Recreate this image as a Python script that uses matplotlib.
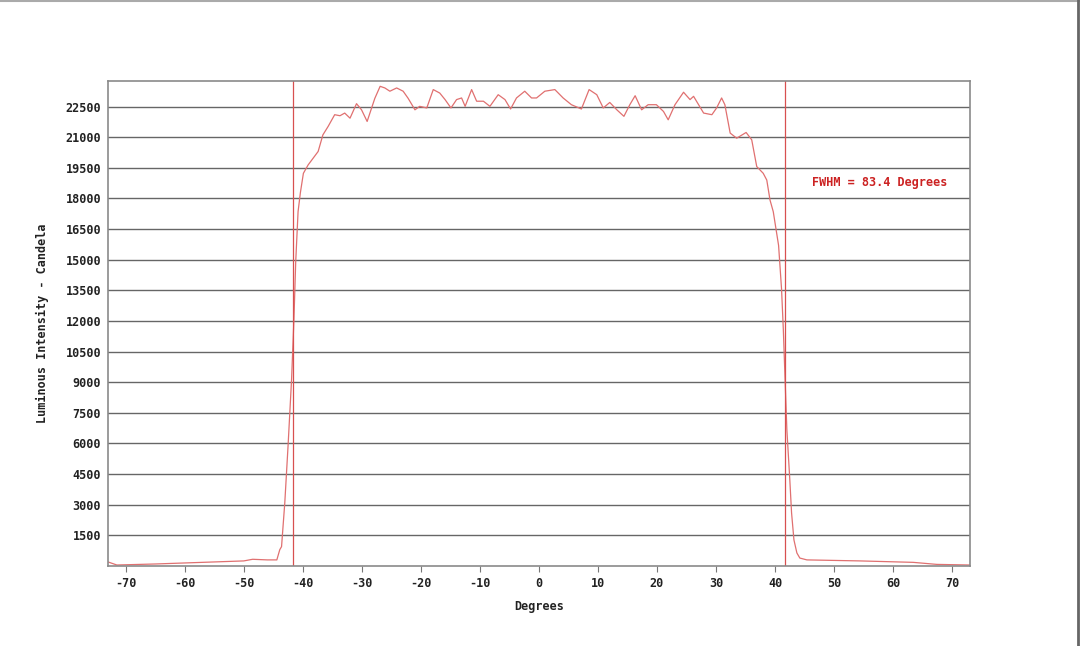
import matplotlib
matplotlib.use("Agg")
from matplotlib import pyplot as plt
from matplotlib.lines import Line2D
import numpy as np

degrees = [-73.0, -71.5, -65.0, -60.0, -55.0, -50.0, -48.5, -46.0, -44.4, -43.9,
           -43.6, -43.05, -42.5, -41.9, -41.5, -41.2, -40.8, -40.4, -39.9, -39.1,
           -38.25, -37.4, -36.6, -35.7, -34.6, -33.7, -32.9, -32.0, -30.9, -30.05,
           -29.1, -27.8, -26.9, -26.1, -25.25, -24.1, -23.0, -22.15, -21.0, -20.2,
           -19.0, -17.9, -16.8, -15.9, -14.9, -13.95, -13.1, -12.5, -11.4, -10.55,
           -9.4, -8.3, -6.9, -5.75, -4.8, -3.8, -2.4, -1.25, -0.4, 1.0,
           2.7, 4.1, 5.5, 7.2, 8.5, 9.8, 10.9, 12.0, 13.2, 14.4,
           15.4, 16.3, 17.4, 18.5, 19.9, 21.1, 21.9, 23.05, 24.5, 25.6,
           26.2, 27.9, 29.3, 30.1, 30.95, 31.5, 32.4, 33.5, 35.1, 36.05,
           36.9, 38.0, 38.6, 39.15, 39.7, 40.6, 41.1, 41.4, 41.7, 42.0,
           42.5, 42.8, 43.2, 43.7, 44.2, 45.4, 54.4, 63.4, 67.4, 73.0]
intensity = [200, 50, 100, 150, 200, 250, 330, 300, 300, 800,
             950, 3100, 5870, 9150, 12100, 14900, 17360, 18300, 19230, 19640,
             19970, 20300, 21110, 21530, 22100, 22050, 22180, 21930, 22640, 22340,
             21770, 22900, 23490, 23410, 23250, 23410, 23250, 22900, 22340, 22510,
             22430, 23330, 23160, 22840, 22430, 22840, 22920, 22510, 23330, 22760,
             22760, 22510, 23080, 22840, 22380, 22920, 23250, 22920, 22920, 23250,
             23330, 22920, 22590, 22380, 23330, 23080, 22430, 22700, 22340, 22020,
             22590, 23030, 22340, 22590, 22590, 22260, 21850, 22590, 23200, 22840,
             23000, 22180, 22100, 22430, 22920, 22590, 21200, 20950, 21230, 20870,
             19560, 19230, 18900, 17920, 17350, 15700, 13570, 11610, 9150, 6690,
             4230, 2600, 1280, 640, 390, 300, 250, 180, 80, 50]

fwhm = 83.4
y_ticks = list(range(1500, 22501, 1500))
x_ticks = list(range(-70, 71, 10))

plt.rcParams['axes.unicode_minus'] = False
font = ['DejaVu Sans Mono']
fig = plt.figure(figsize=(10.8, 6.46), dpi=100)
ax = fig.add_axes([0.1, 0.1238, 0.798, 0.7508])

ax.set_xlim(-73, 73)
ax.set_ylim(0, 23750)

ax.set_yticks(y_ticks)
ax.set_xticks(x_ticks)
ax.yaxis.grid(True, color='#666666', linewidth=1.0)
ax.set_axisbelow(True)
ax.tick_params(axis='y', length=0, pad=5)
ax.tick_params(axis='x', length=4, color='#777777', direction='out', pad=4)
for lab in ax.get_xticklabels() + ax.get_yticklabels():
    lab.set_family(font)
    lab.set_fontsize(8.5)
    lab.set_fontweight('bold')
    lab.set_color('#222222')
for s in ax.spines.values():
    s.set_color('#8a8a8a')
    s.set_linewidth(1.2)

ax.plot(degrees, intensity, color='#e07070', linewidth=0.9)
ax.axvline(-fwhm / 2, color='#d85050', linewidth=0.9)
ax.axvline(fwhm / 2, color='#d85050', linewidth=0.9)

ax.text(57.8, 18800, 'FWHM = %.1f Degrees' % fwhm, color='#cc2222',
        family=font, fontsize=8.5, fontweight='bold', ha='center', va='center')

ax.set_xlabel('Degrees', family=font, fontsize=8.5, fontweight='bold', color='#222222', labelpad=7)
ax.set_ylabel('Luminous Intensity - Candela', family=font, fontsize=8.5,
              fontweight='bold', color='#222222', labelpad=12)

# thin frame of the original screenshot (top and right edges)
fig.add_artist(Line2D([0, 1], [0.999, 0.999], transform=fig.transFigure, color='#aaaaaa', linewidth=1.5))
fig.add_artist(Line2D([0.998, 0.998], [0, 1], transform=fig.transFigure, color='#666666', linewidth=2))

fig.savefig('out.png', dpi=100)
